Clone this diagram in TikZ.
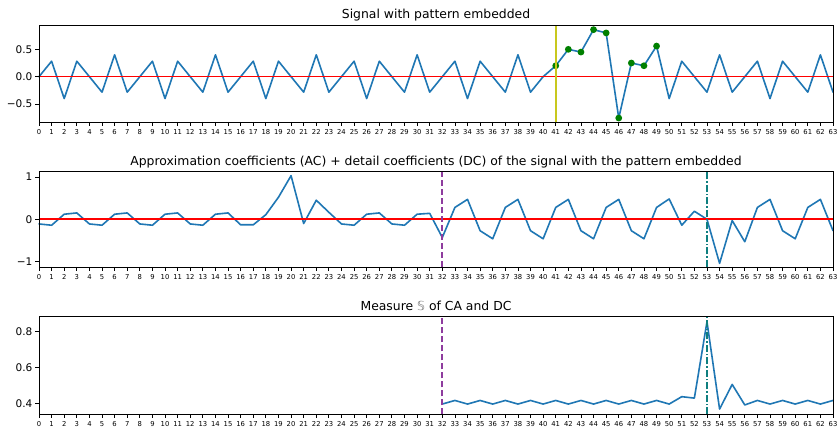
\documentclass[tikz,border=0pt]{standalone}
\usepackage{fontspec}
\setmainfont{DejaVu Sans}
\definecolor{tabblue}{HTML}{1F77B4}
\definecolor{mplred}{HTML}{FF0000}
\definecolor{mplyellow}{HTML}{C8C81E}
\definecolor{mplgreen}{HTML}{008000}
\definecolor{mplpurple}{HTML}{8E3C9E}
\definecolor{mplteal}{HTML}{0F7F7F}
\tikzset{
  sig/.style={tabblue, line width=1.6pt, line join=round, line cap=round},
  zeroline/.style={mplred, line width=1.6pt},
  axframe/.style={line width=0.8pt, black},
  tickmark/.style={line width=0.8pt, black},
  xlab/.style={anchor=north, inner sep=0pt, font=\fontsize{6.8}{7}\selectfont},
  ylab/.style={anchor=east, inner sep=0pt, font=\fontsize{10.5}{12}\selectfont},
  ttl/.style={anchor=base, inner sep=0pt, font=\fontsize{12.4}{14}\selectfont},
  patt/.style={circle, fill=mplgreen, inner sep=0pt, minimum size=6.8pt},
  startline/.style={mplyellow, line width=2pt},
  cutline/.style={mplpurple, line width=1.8pt, dash pattern=on 6pt off 3pt},
  peakline/.style={mplteal, line width=1.3pt, dash pattern=on 7pt off 2pt on 1.5pt off 2pt},
}
\begin{document}
\begin{tikzpicture}
\useasboundingbox (0,0) rectangle (840pt,435pt);
\fill[white] (0,0) rectangle (840pt,435pt);

% ---------------- Axes 1 ----------------
\begin{scope}[shift={(39pt,358.3pt)}, x=12.6032pt, y=54.7pt]
  \draw[sig] plot coordinates {(0,0) (1,.283) (2,-.4) (3,.283) (4,0) (5,-.283) (6,.4) (7,-.283)
    (8,0) (9,.283) (10,-.4) (11,.283) (12,0) (13,-.283) (14,.4) (15,-.283)
    (16,0) (17,.283) (18,-.4) (19,.283) (20,0) (21,-.283) (22,.4) (23,-.283)
    (24,0) (25,.283) (26,-.4) (27,.283) (28,0) (29,-.283) (30,.4) (31,-.283)
    (32,0) (33,.283) (34,-.4) (35,.283) (36,0) (37,-.283) (38,.4) (39,-.283)
    (40,0) (41,.20) (42,.50) (43,.45) (44,.86) (45,.80) (46,-.756) (47,.25)
    (48,.20) (49,.56) (50,-.4) (51,.283) (52,0) (53,-.283) (54,.4) (55,-.283)
    (56,0) (57,.283) (58,-.4) (59,.283) (60,0) (61,-.283) (62,.4) (63,-.283)};
  \draw[zeroline] (0,0) -- (63,0);
  \foreach \i/\v in {41/.20,42/.50,43/.45,44/.86,45/.80,46/-.756,47/.25,48/.20,49/.56}
    \node[patt] (pm\i) at (\i,\v) {};
  \coordinate (s1b) at (41,-0.828);
  \coordinate (s1t) at (41,0.945);
  \draw[startline] (s1b) -- (s1t);
  \draw[axframe] (0,-0.828) rectangle (63,0.945);
  \foreach \i in {0,...,63} {
    \draw[tickmark] (\i,-0.828) -- ++(0,-3.8pt);
    \node[xlab] (ax1x\i) at ([yshift=-7pt]\i,-0.828) {\i};
  }
  \foreach \v/\t [count=\k] in {-0.5/−0.5,0/0.0,0.5/0.5} {
    \draw[tickmark] (0,\v) -- ++(-3.8pt,0);
    \node[ylab] (ax1y\k) at ([xshift=-6.5pt]0,\v) {\t};
  }
  \node[ttl] (title1) at ([yshift=6.2pt]31.5,0.945) {Signal with pattern embedded};
\end{scope}

% ---------------- Axes 2 ----------------
\begin{scope}[shift={(39pt,215.7pt)}, x=12.6032pt, y=42.35pt]
  \draw[sig] plot coordinates {(0,-.11) (1,-.14) (2,.12) (3,.15) (4,-.11) (5,-.14) (6,.12) (7,.15)
    (8,-.11) (9,-.14) (10,.12) (11,.15) (12,-.11) (13,-.14) (14,.12) (15,.15)
    (16,-.13) (17,-.13) (18,.11) (19,.52) (20,1.03) (21,-.10) (22,.45) (23,.165)
    (24,-.11) (25,-.14) (26,.12) (27,.15) (28,-.11) (29,-.14) (30,.12) (31,.14)
    (32,-.43) (33,.28) (34,.47) (35,-.27) (36,-.46) (37,.28) (38,.47) (39,-.27)
    (40,-.46) (41,.28) (42,.47) (43,-.27) (44,-.46) (45,.28) (46,.47) (47,-.27)
    (48,-.46) (49,.28) (50,.48) (51,-.14) (52,.19) (53,0) (54,-1.04) (55,-.03)
    (56,-.53) (57,.28) (58,.47) (59,-.27) (60,-.46) (61,.28) (62,.47) (63,-.27)};
  \draw[zeroline] (0,0) -- (63,0);
  \coordinate (c2b) at (32,-1.126);
  \coordinate (c2t) at (32,1.124);
  \draw[cutline] (c2b) -- (c2t);
  \coordinate (p2b) at (53,-1.126);
  \coordinate (p2t) at (53,1.124);
  \draw[peakline] (p2b) -- (p2t);
  \draw[axframe] (0,-1.126) rectangle (63,1.124);
  \foreach \i in {0,...,63} {
    \draw[tickmark] (\i,-1.126) -- ++(0,-3.8pt);
    \node[xlab] (ax2x\i) at ([yshift=-7pt]\i,-1.126) {\i};
  }
  \foreach \v/\t [count=\k] in {-1/−1,0/0,1/1} {
    \draw[tickmark] (0,\v) -- ++(-3.8pt,0);
    \node[ylab] (ax2y\k) at ([xshift=-6.5pt]0,\v) {\t};
  }
  \node[ttl] (title2) at ([yshift=6.2pt]31.5,1.124) {Approximation coefficients (AC) + detail coefficients (DC) of the signal with the pattern embedded};
\end{scope}

% ---------------- Axes 3 ----------------
\begin{scope}[shift={(39pt,-40.7pt)}, x=12.6032pt, y=180pt]
  \draw[sig] plot coordinates {(32,.398) (33,.418) (34,.398) (35,.418) (36,.398) (37,.418) (38,.398) (39,.418)
    (40,.398) (41,.418) (42,.398) (43,.418) (44,.398) (45,.418) (46,.398) (47,.418)
    (48,.398) (49,.418) (50,.398) (51,.439) (52,.431) (53,.855) (54,.370) (55,.507)
    (56,.393) (57,.418) (58,.398) (59,.418) (60,.398) (61,.418) (62,.398) (63,.418)};
  \coordinate (c3b) at (32,0.341);
  \coordinate (c3t) at (32,0.883);
  \draw[cutline] (c3b) -- (c3t);
  \coordinate (p3b) at (53,0.341);
  \coordinate (p3t) at (53,0.883);
  \draw[peakline] (p3b) -- (p3t);
  \draw[axframe] (0,0.341) rectangle (63,0.883);
  \foreach \i in {0,...,63} {
    \draw[tickmark] (\i,0.341) -- ++(0,-3.8pt);
    \node[xlab] (ax3x\i) at ([yshift=-7pt]\i,0.341) {\i};
  }
  \foreach \v/\t [count=\k] in {0.4/0.4,0.6/0.6,0.8/0.8} {
    \draw[tickmark] (0,\v) -- ++(-3.8pt,0);
    \node[ylab] (ax3y\k) at ([xshift=-6.5pt]0,\v) {\t};
  }
  \node[ttl] (title3) at ([yshift=6.2pt]31.5,0.883) {Measure {\color{gray}𝕊} of CA and DC};
\end{scope}
\end{tikzpicture}
\end{document}
